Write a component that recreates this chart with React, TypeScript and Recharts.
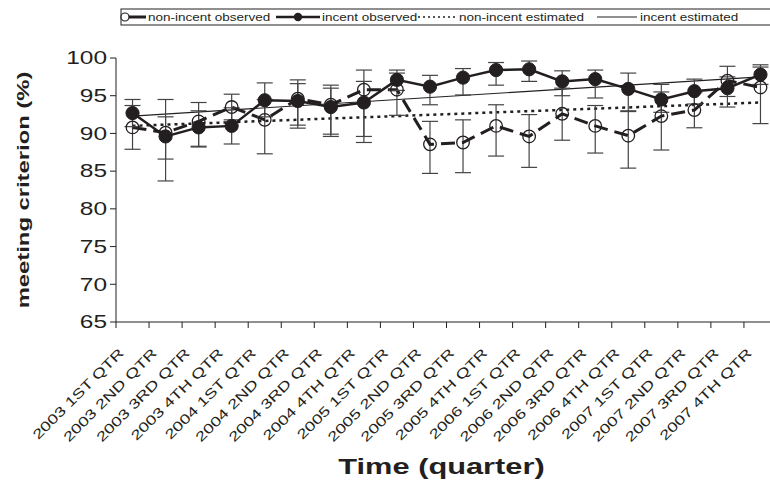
import React from 'react';
import { LineChart, Line, XAxis, YAxis, ErrorBar } from 'recharts';

const quarters = [
  '2003 1ST QTR', '2003 2ND QTR', '2003 3RD QTR', '2003 4TH QTR',
  '2004 1ST QTR', '2004 2ND QTR', '2004 3RD QTR', '2004 4TH QTR',
  '2005 1ST QTR', '2005 2ND QTR', '2005 3RD QTR', '2005 4TH QTR',
  '2006 1ST QTR', '2006 2ND QTR', '2006 3RD QTR', '2006 4TH QTR',
  '2007 1ST QTR', '2007 2ND QTR', '2007 3RD QTR', '2007 4TH QTR',
];

const nonIncentObserved = [90.8, 90.1, 91.6, 93.5, 91.8, 94.6, 93.8, 95.8, 95.8, 88.55, 88.8, 91.0, 89.6, 92.6, 91.0, 89.7, 92.3, 93.1, 97.0, 96.1];
const nonIncentHigh = [93.7, 94.5, 94.1, 95.2, 94.5, 97.1, 96.4, 98.4, 98.0, 91.6, 91.8, 93.8, 92.5, 96.0, 93.7, 93.0, 95.5, 95.4, 98.9, 98.8];
const nonIncentLow = [87.9, 83.7, 88.2, 91.8, 87.3, 91.1, 89.6, 88.8, 92.4, 84.7, 84.8, 87.0, 85.5, 89.1, 87.4, 85.4, 87.8, 90.75, 93.5, 91.3];

const incentObserved = [92.7, 89.6, 90.8, 91.0, 94.4, 94.3, 93.5, 94.1, 97.1, 96.2, 97.4, 98.4, 98.5, 96.9, 97.2, 95.9, 94.5, 95.6, 96.0, 97.8];
const incentHigh = [94.5, 92.2, 93.0, 93.4, 96.7, 96.6, 96.0, 96.9, 98.4, 97.7, 98.6, 99.4, 99.6, 98.3, 98.4, 98.0, 96.5, 97.2, 97.5, 99.1];
const incentLow = [90.9, 86.6, 88.3, 88.6, 92.2, 90.7, 89.9, 89.6, 95.7, 93.8, 95.1, 96.4, 96.9, 95.0, 94.7, 92.9, 92.8, 93.9, 94.9, 96.5];

// trend lines: only the end values, joined straight
const nonIncentEstimated = [91.0, null, null, null, null, null, null, null, null, null, null, null, null, null, null, null, null, null, null, 94.1];
const incentEstimated = [92.3, null, null, null, null, null, null, null, null, null, null, null, null, null, null, null, null, null, null, 97.5];

const yTicks = [65, 70, 75, 80, 85, 90, 95, 100];

const INK = '#231f20';
const FONT = '"Liberation Sans", Arial, sans-serif';
const SX = 1.35; // text in the figure is drawn wide

const W = 790;
const H = 486;
const MARGIN = { top: 58, right: 13, bottom: 0, left: 0 };
const Y_AXIS_W = 116;
const PLOT_W = W - MARGIN.left - MARGIN.right - Y_AXIS_W;
const STEP = PLOT_W / quarters.length;

const data = quarters.map((q, i) => ({
  q,
  nonObs: nonIncentObserved[i],
  nonErr: [nonIncentObserved[i] - nonIncentLow[i], nonIncentHigh[i] - nonIncentObserved[i]],
  incObs: incentObserved[i],
  incErr: [incentObserved[i] - incentLow[i], incentHigh[i] - incentObserved[i]],
  nonEst: nonIncentEstimated[i],
  incEst: incentEstimated[i],
}));

const Wide = ({ x, y, angle = 0, anchor = 'middle', size, weight = 'normal', dy = 0, sx = SX, children }: any) => (
  <text
    transform={`translate(${x},${y}) rotate(${angle}) scale(${sx},1)`}
    textAnchor={anchor}
    dy={dy}
    fontSize={size}
    fontWeight={weight}
    fontFamily={FONT}
    fill={INK}
  >
    {children}
  </text>
);

const XTick = ({ x, y, payload }: any) => (
  <g>
    <line x1={x - STEP / 2} x2={x - STEP / 2} y1={y - 6} y2={y} stroke={INK} strokeWidth={1} />
    <Wide x={x - 8} y={y + 26} angle={-45} anchor="end" size={13.5}>
      {payload.value}
    </Wide>
  </g>
);

const YTick = ({ x, y, payload }: any) => (
  <Wide x={x} y={y} anchor="end" size={17.5} dy="0.36em" sx={1.4}>
    {payload.value}
  </Wide>
);

const YTitle = ({ viewBox }: any) => (
  <Wide x={viewBox.x + 29} y={viewBox.y + viewBox.height / 2} angle={-90} anchor="middle" size={17} weight="bold" sx={1.4}>
    meeting criterion (%)
  </Wide>
);

const XTitle = ({ viewBox }: any) => (
  <Wide x={viewBox.x + viewBox.width / 2 - 5} y={viewBox.y + 152} anchor="middle" size={22} weight="bold" sx={1.4}>
    Time (quarter)
  </Wide>
);

const OpenDot = (p: any) => (
  <circle key={`o${p.index}`} cx={p.cx} cy={p.cy} r={6.3} fill="none" stroke={INK} strokeWidth={1.3} />
);

const FilledDot = (p: any) => (
  <circle key={`f${p.index}`} cx={p.cx} cy={p.cy} r={6.6} fill={INK} stroke={INK} strokeWidth={1} />
);

const LegendBox = () => (
  <svg width={W} height={32} style={{ position: 'absolute', left: 0, top: 0 }}>
    <rect x={121} y={9} width={660} height={16} fill="#fff" stroke={INK} strokeWidth={1} />
    <line x1={121} x2={146} y1={17} y2={17} stroke={INK} strokeWidth={3} />
    <circle cx={125} cy={17} r={4} fill="#fff" stroke={INK} strokeWidth={1.2} />
    <Wide x={148} y={21} anchor="start" size={10}>non-incent observed</Wide>
    <line x1={276} x2={320} y1={17} y2={17} stroke={INK} strokeWidth={2.5} />
    <circle cx={298} cy={17} r={4.2} fill={INK} />
    <Wide x={322} y={21} anchor="start" size={10}>incent observed</Wide>
    <line x1={418} x2={456} y1={17} y2={17} stroke={INK} strokeWidth={1.5} strokeDasharray="2 3" />
    <Wide x={459} y={21} anchor="start" size={10}>non-incent estimated</Wide>
    <line x1={597} x2={637} y1={17} y2={17} stroke={INK} strokeWidth={1} />
    <Wide x={640} y={21} anchor="start" size={10}>incent estimated</Wide>
  </svg>
);

export default function App() {
  return (
    <div style={{ position: 'fixed', left: 0, top: 0, width: 770, height: 486, overflow: 'hidden', background: '#fff' }}>
      <LineChart width={W} height={H} data={data} margin={MARGIN}>
        <XAxis
          dataKey="q"
          height={164}
          padding={{ left: STEP / 2, right: STEP / 2 }}
          interval={0}
          tickLine={false}
          tickSize={6}
          tickMargin={0}
          stroke={INK}
          tick={(p: any) => <XTick {...p} />}
          label={{ content: (p: any) => <XTitle {...p} /> }}
        />
        <YAxis
          width={Y_AXIS_W}
          domain={[65, 100]}
          ticks={yTicks}
          interval={0}
          allowDataOverflow
          tickSize={6}
          tickMargin={3}
          stroke={INK}
          tickLine={{ stroke: INK }}
          tick={(p: any) => <YTick {...p} />}
          label={{ content: (p: any) => <YTitle {...p} /> }}
        />
        <Line dataKey="incEst" stroke={INK} strokeWidth={1.2} dot={false} connectNulls isAnimationActive={false} />
        <Line dataKey="nonEst" stroke={INK} strokeWidth={2.5} strokeDasharray="3 4" dot={false} connectNulls isAnimationActive={false} />
        <Line dataKey="nonObs" stroke={INK} strokeWidth={3} strokeDasharray="14 7" dot={OpenDot} isAnimationActive={false}>
          <ErrorBar dataKey="nonErr" direction="y" width={8} stroke="#444" strokeWidth={1.2} isAnimationActive={false} />
        </Line>
        <Line dataKey="incObs" stroke={INK} strokeWidth={2.5} dot={FilledDot} isAnimationActive={false}>
          <ErrorBar dataKey="incErr" direction="y" width={8} stroke="#444" strokeWidth={1.2} isAnimationActive={false} />
        </Line>
      </LineChart>
      <LegendBox />
    </div>
  );
}
